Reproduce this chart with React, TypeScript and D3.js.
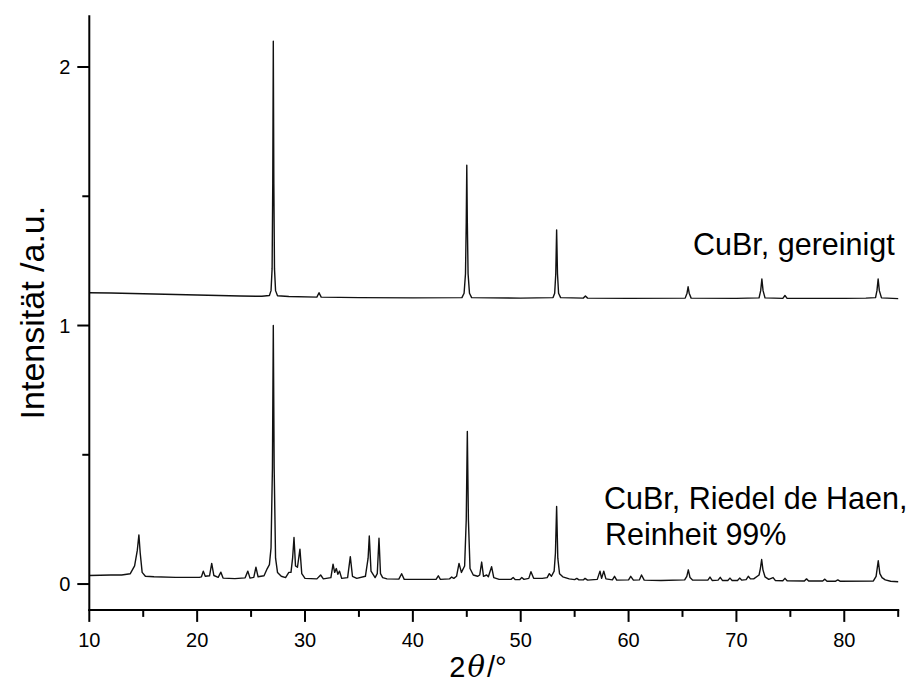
import React from "react";
import * as d3 from "d3";

// 2θ / intensity pairs — purified CuBr (offset trace)
const pureTrace: [number, number][] = [
  [10, 1.127], [12, 1.126], [14, 1.124], [16, 1.122], [18, 1.12], [20, 1.118], [22, 1.116], [24, 1.114], [26, 1.113],
  [26.7, 1.116], [26.85, 1.135], [26.95, 1.22], [27.01, 1.55], [27.06, 2.1], [27.11, 1.55], [27.17, 1.22], [27.27, 1.135], [27.45, 1.115],
  [28.5, 1.112], [31.1, 1.11], [31.3, 1.127], [31.5, 1.11], [35, 1.108], [40, 1.107], [44.55, 1.108],
  [44.75, 1.125], [44.88, 1.2], [44.95, 1.4], [45.0, 1.62], [45.05, 1.4], [45.12, 1.2], [45.25, 1.125], [45.45, 1.108],
  [50, 1.106], [53.0, 1.108], [53.15, 1.125], [53.25, 1.2], [53.33, 1.37], [53.41, 1.2], [53.51, 1.125], [53.7, 1.108],
  [55.8, 1.106], [56.0, 1.114], [56.2, 1.106], [60, 1.105], [65.25, 1.106], [65.42, 1.125], [65.52, 1.15], [65.62, 1.125], [65.8, 1.106],
  [70, 1.105], [72.1, 1.107], [72.25, 1.135], [72.36, 1.18], [72.47, 1.135], [72.65, 1.107],
  [74.3, 1.105], [74.5, 1.116], [74.7, 1.105], [80, 1.105], [82.0, 1.106], [82.9, 1.108], [83.03, 1.135], [83.14, 1.18], [83.25, 1.135], [83.45, 1.107], [85, 1.104],
];

// commercial CuBr, Riedel de Haen, 99 %
const commercialTrace: [number, number][] = [
  [10, 0.033], [11, 0.034], [12, 0.035], [13, 0.035], [13.8, 0.04], [14.2, 0.07], [14.45, 0.13], [14.6, 0.19], [14.72, 0.12], [14.9, 0.045], [15.2, 0.03],
  [16, 0.028], [18, 0.026], [20.2, 0.026], [20.4, 0.028], [20.57, 0.05], [20.75, 0.03], [21.15, 0.032], [21.35, 0.08], [21.55, 0.033],
  [21.95, 0.026], [22.2, 0.046], [22.4, 0.023], [23.5, 0.021], [24.45, 0.024], [24.7, 0.05], [24.9, 0.023], [25.25, 0.026], [25.45, 0.065], [25.65, 0.028],
  [26.2, 0.032], [26.5, 0.06], [26.7, 0.075], [26.85, 0.14], [26.98, 0.45], [27.06, 1.0], [27.14, 0.45], [27.27, 0.1], [27.45, 0.045], [27.8, 0.03],
  [28.2, 0.025], [28.5, 0.045], [28.7, 0.045], [28.85, 0.1], [28.98, 0.18], [29.12, 0.07], [29.3, 0.065], [29.53, 0.135], [29.7, 0.04], [30.0, 0.022],
  [31.1, 0.02], [31.45, 0.035], [31.7, 0.02], [32.4, 0.025], [32.6, 0.077], [32.75, 0.045], [32.9, 0.06], [33.05, 0.038], [33.2, 0.05], [33.4, 0.022],
  [33.95, 0.025], [34.2, 0.106], [34.4, 0.03], [34.8, 0.022], [35.6, 0.03], [35.85, 0.1], [35.96, 0.186], [36.12, 0.05], [36.5, 0.025],
  [36.7, 0.04], [36.86, 0.177], [37.0, 0.04], [37.2, 0.025], [37.6, 0.02], [38.7, 0.019], [38.96, 0.04], [39.2, 0.018], [41, 0.018],
  [42.15, 0.018], [42.36, 0.032], [42.55, 0.018], [43.4, 0.02], [43.6, 0.027], [43.8, 0.022], [44.05, 0.03], [44.28, 0.08], [44.5, 0.045],
  [44.8, 0.07], [44.95, 0.25], [45.05, 0.59], [45.15, 0.25], [45.3, 0.06], [45.6, 0.035], [46.0, 0.03], [46.2, 0.035], [46.38, 0.085], [46.55, 0.03],
  [46.84, 0.035], [47.0, 0.028], [47.3, 0.067], [47.5, 0.025], [48, 0.018], [49.1, 0.018], [49.3, 0.025], [49.5, 0.017], [49.9, 0.017], [50.1, 0.025],
  [50.3, 0.018], [50.75, 0.022], [50.95, 0.048], [51.2, 0.022], [52, 0.022], [52.45, 0.025], [52.65, 0.04], [52.85, 0.03], [53.1, 0.05], [53.22, 0.12],
  [53.33, 0.3], [53.44, 0.1], [53.6, 0.04], [53.9, 0.028], [54.5, 0.02], [55.0, 0.017], [55.2, 0.022], [55.4, 0.016], [55.8, 0.016], [55.96, 0.022],
  [56.2, 0.015], [57.1, 0.018], [57.35, 0.05], [57.5, 0.022], [57.7, 0.05], [57.9, 0.02], [58.5, 0.016], [58.7, 0.03], [58.9, 0.015],
  [60.0, 0.016], [60.2, 0.03], [60.45, 0.015], [61.0, 0.016], [61.2, 0.035], [61.45, 0.015], [63, 0.014], [65.2, 0.016], [65.4, 0.03], [65.54, 0.055],
  [65.7, 0.025], [65.95, 0.015], [67.35, 0.015], [67.55, 0.027], [67.75, 0.014], [68.3, 0.015], [68.5, 0.026], [68.7, 0.014], [69.2, 0.014], [69.4, 0.023],
  [69.6, 0.014], [70.1, 0.014], [70.3, 0.023], [70.5, 0.015], [70.9, 0.017], [71.1, 0.03], [71.3, 0.02], [71.6, 0.02], [72.1, 0.035], [72.22, 0.06],
  [72.34, 0.095], [72.46, 0.055], [72.65, 0.028], [73.0, 0.018], [73.4, 0.025], [73.6, 0.014], [74.3, 0.013], [74.5, 0.022], [74.7, 0.013],
  [76.3, 0.012], [76.5, 0.02], [76.7, 0.012], [78.0, 0.012], [78.2, 0.019], [78.4, 0.011], [79.2, 0.011], [79.4, 0.016], [79.6, 0.011],
  [82.7, 0.012], [82.95, 0.03], [83.15, 0.09], [83.3, 0.04], [83.5, 0.025], [83.8, 0.016], [84.3, 0.011], [85, 0.009],
];

const xMajorTicks = [10, 20, 30, 40, 50, 60, 70, 80];
const xMinorTicks = [15, 25, 35, 45, 55, 65, 75, 85];
const yMajorTicks = [0, 1, 2];
const yMinorTicks = [0.5, 1.5];
const labelPure = "CuBr, gereinigt";
const labelCommercial = ["CuBr, Riedel de Haen,", "Reinheit 99%"];

export default function App() {
  const W = 911;
  const H = 688;
  const x = d3.scaleLinear().domain([10, 85]).range([89.3, 898.2]);
  const y = d3.scaleLinear().domain([-0.1, 2.2]).range([609.9, 15.3]);
  const line = d3
    .line<[number, number]>()
    .x((d) => x(d[0]))
    .y((d) => y(d[1]));
  const font = "'Liberation Sans', Arial, Helvetica, sans-serif";
  const x0 = x(10);
  const yb = y(-0.1);
  return (
    <svg
      width={W}
      height={H}
      style={{ position: "absolute", left: 0, top: 0, background: "#fff" }}
      fontFamily={font}
    >
      <rect width={W} height={H} fill="#fff" />
      <path d={line(pureTrace) ?? ""} fill="none" stroke="#111" strokeWidth={1.4} strokeLinejoin="round" />
      <path d={line(commercialTrace) ?? ""} fill="none" stroke="#111" strokeWidth={1.4} strokeLinejoin="round" />
      {/* axes */}
      <line x1={x0} x2={x0} y1={y(2.2)} y2={yb + 1} stroke="#000" strokeWidth={2} />
      <line x1={x0 - 1} x2={x(85) + 1} y1={yb} y2={yb} stroke="#000" strokeWidth={2} />
      {yMajorTicks.map((t) => (
        <g key={"ym" + t}>
          <line x1={x0 - 12} x2={x0} y1={y(t)} y2={y(t)} stroke="#000" strokeWidth={2} />
          <text x={x0 - 19} y={y(t)} textAnchor="end" dominantBaseline="central" fontSize={20}>
            {t}
          </text>
        </g>
      ))}
      {yMinorTicks.map((t) => (
        <line key={"yn" + t} x1={x0 - 7} x2={x0} y1={y(t)} y2={y(t)} stroke="#000" strokeWidth={2} />
      ))}
      {xMajorTicks.map((t) => (
        <g key={"xm" + t}>
          <line x1={x(t)} x2={x(t)} y1={yb} y2={yb + 12} stroke="#000" strokeWidth={2} />
          <text x={x(t)} y={yb + 37} textAnchor="middle" fontSize={20}>
            {t}
          </text>
        </g>
      ))}
      {xMinorTicks.map((t) => (
        <line key={"xn" + t} x1={x(t)} x2={x(t)} y1={yb} y2={yb + 7} stroke="#000" strokeWidth={2} />
      ))}
      {/* axis titles */}
      <text
        transform={`translate(44, ${(y(2.2) + yb) / 2}) rotate(-90)`}
        textAnchor="middle"
        fontSize={34}
      >
        Intensität /a.u.
      </text>
      <text x={478} y={677} textAnchor="middle" fontSize={29}>
        2<tspan fontStyle="italic" fontFamily="'DejaVu Serif', serif" dx={2}>θ</tspan>
        <tspan dx={2}>/°</tspan>
      </text>
      {/* annotations */}
      <text x={693} y={255} fontSize={30.5}>
        {labelPure}
      </text>
      <text x={604} y={509} fontSize={30.5}>
        {labelCommercial[0]}
      </text>
      <text x={605} y={545} fontSize={30.5}>
        {labelCommercial[1]}
      </text>
    </svg>
  );
}
